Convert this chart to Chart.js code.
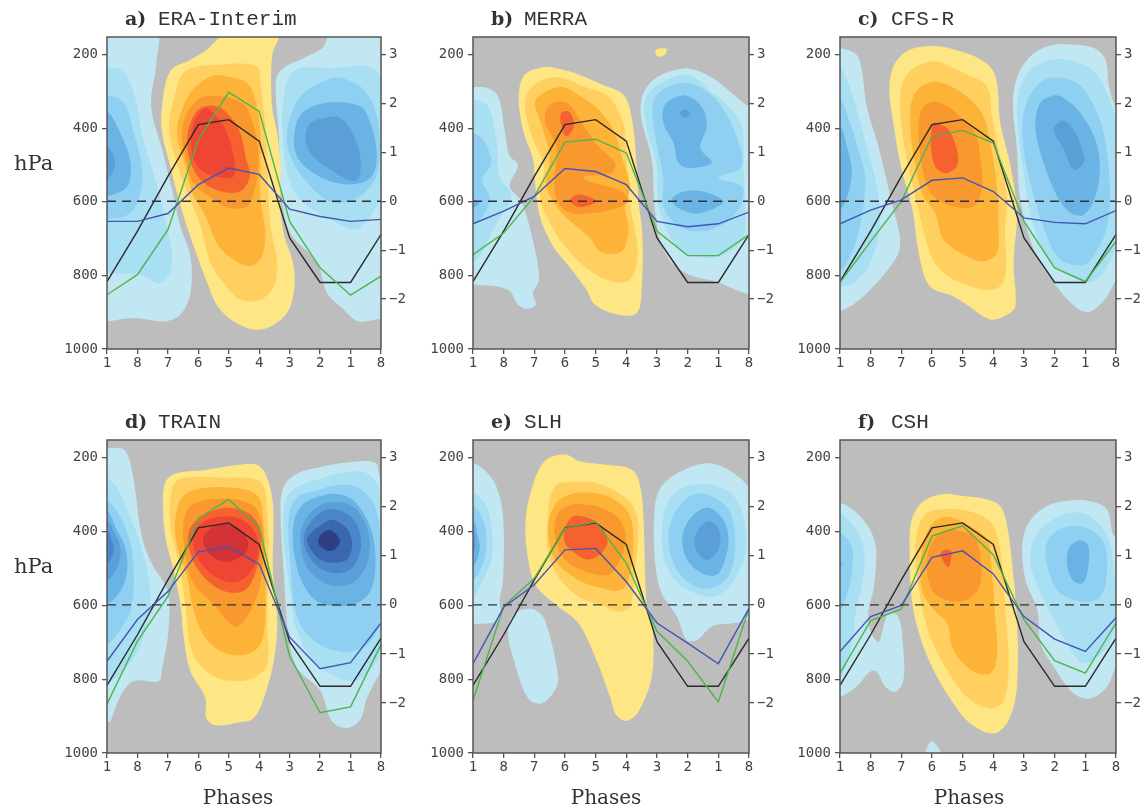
<!DOCTYPE html>
<html><head><meta charset="utf-8">
<style>html,body{margin:0;padding:0;background:#fff;overflow:hidden;width:1141px;height:812px}canvas{position:absolute}</style>
<script src="https://cdn.jsdelivr.net/npm/chart.js@4/dist/chart.umd.min.js"></script>
</head><body>
<script>
const phaseLabels=[1,8,7,6,5,4,3,2,1,8];
const pressureTicks=[200,400,600,800,1000];
const anomalyTicks=[-2,-1,0,1,2,3];
const warmColors=['#FEE685','#FFD05F','#FDB337','#F9982F','#F5622F','#EE4534','#D33237'];
const coldColors=['#C0E7F2','#A8DFF3','#8ECFF2','#6AB3E5','#5B9FD9','#4A86C8','#3A68B0','#2E3F84'];

const blackLine=[-1.64,-.61,.51,1.57,1.67,1.23,-.75,-1.66,-1.66,-.68];
const eraGreen=[-1.91,-1.5,-.58,1.26,2.23,1.84,-.41,-1.36,-1.92,-1.53];
const eraBlue=[-.41,-.41,-.25,.34,.68,.55,-.16,-.31,-.41,-.37];
const merraGreen=[-1.09,-.65,.1,1.21,1.27,.99,-.61,-1.11,-1.11,-.68];
const merraBlue=[-.46,-.2,.1,.67,.61,.34,-.41,-.52,-.46,-.22];
const cfsGreen=[-1.66,-.82,0,1.33,1.45,1.19,-.41,-1.36,-1.64,-.82];
const cfsBlue=[-.46,-.18,.03,.43,.48,.2,-.34,-.43,-.46,-.19];
const trainGreen=[-2.02,-.74,.17,1.76,2.15,1.58,-1.05,-2.2,-2.08,-.81];
const trainBlue=[-1.15,-.3,.27,1.08,1.18,.83,-.66,-1.3,-1.18,-.37];
const slhGreen=[-1.95,-.03,.54,1.56,1.69,.85,-.54,-1.15,-1.98,-.07];
const slhBlue=[-1.2,-.05,.41,1.12,1.15,.47,-.37,-.78,-1.2,-.07];
const cshGreen=[-1.39,-.32,-.09,1.4,1.61,1.02,-.3,-1.14,-1.39,-.37];
const cshBlue=[-.95,-.24,-.01,.97,1.1,.63,-.24,-.7,-.95,-.26];

// contour outlines: [level, [phase position, hPa, ...]]
const eraWarm=[
[0,[4.1,130,3.3,185,2.74,214,2.08,245,1.81,340,1.81,413,2.08,503,2.3,576,2.52,639,2.85,721,3.29,820,3.72,893,4.6,943,5.26,943,5.91,902,6.13,848,6.13,775,5.8,685,5.7,612,5.7,503,5.59,413,5.42,340,5.42,205,5.65,130]],
[1,[2.57,245,2.19,322,2.03,386,2.14,449,2.41,522,2.74,594,3.07,667,3.4,766,3.83,820,4.38,866,5.04,866,5.48,830,5.59,766,5.37,667,5.31,594,5.26,485,5.2,395,5.04,277,4.93,232,3.83,227]],
[2,[3.5,257,2.85,291,2.46,349,2.3,413,2.57,503,2.85,585,3.18,630,3.67,721,4.16,757,4.71,775,5.09,748,5.2,685,5.04,594,5.04,513,5.04,413,4.87,322,4.6,277,4.05,261]],
[3,[3.07,318,2.63,359,2.46,413,2.57,476,2.85,549,3.5,594,4.05,617,4.6,612,4.87,558,4.98,476,4.82,395,4.55,340,4.05,318,3.5,313]],
[4,[3.07,345,2.74,386,2.63,440,2.79,503,3.18,549,3.72,571,4.38,571,4.69,531,4.55,476,4.38,413,4.05,368,3.6,340]],
[5,[3.23,345,2.85,386,2.79,467,3.07,512,3.6,531,4.16,531,4.16,476,3.94,413,3.6,368]]];
const eraCold=[
[0,[7.5,125,7.1,180,6.46,209,5.8,236,5.55,268,5.64,413,5.75,594,6.02,685,6.9,766,7.23,848,7.78,893,8.27,925,8.98,918,9.4,918,9.4,125]],
[1,[6.13,245,5.8,322,5.78,440,6.02,549,6.46,603,7.34,648,8.16,676,8.65,639,8.93,594,9,413,8.87,245,7.34,236]],
[2,[7.45,263,6.46,304,6.02,368,5.91,440,6.19,503,6.79,567,7.45,603,8.1,594,8.65,558,8.93,503,8.87,368,8.43,295,7.89,268]],
[3,[7.23,331,6.41,359,6.16,413,6.24,476,6.79,522,7.56,549,8.32,549,8.76,522,8.85,458,8.65,386,8.32,340]],
[4,[7.34,369,6.68,386,6.52,422,6.68,467,7.34,513,8.1,544,8.32,522,8.27,458,8,404,7.67,372]],
[0,[-.4,125,1.59,125,1.62,223,1.45,340,1.81,458,2.19,585,2.41,667,2.74,748,2.74,848,2.41,907,1.86,925,.88,916,0,925,-.4,925]],
[1,[-.4,236,0,236,.5,241,.88,304,1.2,431,1.53,522,1.81,612,2.14,766,1.75,822,1.1,798,0,795,-.4,795]],
[2,[-.4,309,0,309,.55,331,.88,413,1.1,485,1.15,558,.77,630,0,648,-.4,648]],
[3,[-.4,354,0,354,.44,413,.77,494,.66,558,0,585,-.4,585]],
[4,[-.4,449,0,449,.27,494,0,540,-.4,540]]];
const merraWarm=[
[0,[5.97,186,6.32,185,6.21,203,5.99,203]],
[0,[2.29,234,1.69,254,1.49,313,1.63,404,1.96,485,2.02,549,2.18,639,2.61,721,3.21,784,3.7,839,3.98,880,4.74,907,5.34,902,5.5,839,5.52,685,5.39,594,5.34,503,5.17,368,4.9,309,4.2,281,3.32,250,2.67,236]],
[1,[2.34,266,1.85,295,1.69,340,1.96,431,2.32,503,2.18,585,2.45,648,3,721,3.76,784,4.52,816,5.12,812,5.37,739,5.17,630,5.06,558,5,458,4.9,386,4.41,313,3.65,288,2.89,263]],
[2,[2.89,288,2.29,304,2.02,331,2.25,395,2.5,476,2.4,558,2.89,630,3.76,694,4.2,737,4.85,735,5.07,676,4.96,612,5.12,558,4.85,476,4.58,404,4.09,349,3.43,309]],
[3,[2.89,327,2.45,340,2.36,386,2.72,449,2.67,531,2.72,594,3.16,630,3.98,630,4.85,612,5.07,594,4.74,567,3.76,544,3.6,531,4.52,522,4.63,494,4.09,449,3.54,386,3.21,340]],
[4,[2.87,359,2.89,395,3.05,422,3.27,400,3.27,377,3.11,354]],
[4,[3.16,594,3.43,580,3.98,594,3.98,603,3.49,614,3.21,603]]];
const merraCold=[
[0,[6.81,238,6.05,259,5.56,304,5.48,368,5.83,485,5.94,630,6.26,739,6.92,793,8.01,820,9,852,9.4,852,9.4,340,9,340,8.44,304,7.9,268,7.24,241]],
[1,[6.81,254,6.05,281,5.61,322,5.66,395,5.99,503,6.05,612,6.48,703,7.03,744,8.01,748,8.77,703,8.88,648,8.82,503,8.77,395,8.33,340,7.68,295,7.24,263]],
[2,[6.81,277,6.05,304,5.85,349,5.99,440,6.21,540,6.21,612,6.7,667,7.46,680,8.22,657,8.71,612,8.77,558,8.01,535,8.77,503,8.55,413,8.01,331,7.46,291]],
[3,[6.81,311,6.26,336,6.21,386,6.54,440,6.7,494,7.03,508,7.79,494,7.41,454,7.62,395,7.51,349,7.14,318]],
[3,[6.48,594,6.81,574,7.46,571,8.17,598,7.79,621,7.24,632,6.7,617]],
[4,[6.75,359,6.92,350,7.08,359,6.92,372]],
[0,[-.4,288,0,288,.49,291,.82,313,1.03,404,1.2,476,1.47,499,1.2,558,1.58,598,2.02,730,2.15,812,1.96,848,2.05,880,1.74,891,1.47,880,1.14,839,0,825,-.4,825]],
[1,[-.4,322,0,322,.49,340,.76,431,.87,531,1.25,585,.71,667,.22,748,0,766,-.4,766]],
[2,[-.4,413,0,413,.33,431,.6,494,.3,540,.55,590,.3,640,0,660,-.4,660]],
[3,[-.3,590,.2,603,-.3,625]]];
const cfsWarm=[
[0,[3.16,177,2.29,186,1.8,223,1.61,286,1.74,386,2.01,513,2.34,612,2.61,757,2.94,830,3.7,857,4.14,880,4.9,920,5.45,907,5.72,884,5.66,766,5.77,630,5.56,503,5.23,386,5.07,259,4.68,218,3.92,191]],
[1,[3.05,218,2.34,241,2.01,286,1.96,359,2.18,485,2.51,603,2.83,712,3.16,775,3.92,820,5.01,839,5.38,802,5.38,676,5.45,594,5.23,485,4.96,368,4.79,286,4.14,254,3.59,232]],
[2,[2.94,275,2.45,304,2.29,359,2.4,476,2.72,585,3.1,630,3.38,703,4.14,748,4.68,762,5.12,739,5.17,667,5.12,558,4.9,440,4.68,368,4.25,322,3.49,281]],
[3,[3.05,327,2.67,349,2.56,413,2.72,522,3.05,585,3.7,612,4.36,612,4.63,558,4.58,485,4.41,413,3.92,368,3.49,340]],
[4,[3.05,386,2.96,445,3.1,503,3.43,522,3.81,503,3.81,458,3.54,404,3.27,390]]];
const cfsCold=[
[0,[8.28,182,8.66,214,8.77,286,9,349,9.4,413,9.4,766,9,812,8.71,857,8.17,898,7.73,889,6.97,820,6.32,730,5.88,594,5.77,458,5.64,322,5.83,250,6.32,196,6.97,173,7.63,173]],
[1,[6.86,214,6.21,241,5.88,286,5.77,359,5.99,522,6.32,667,6.86,766,7.51,802,8.06,820,8.6,793,9,703,9,386,8.71,304,8.28,245,7.63,218]],
[2,[6.86,263,6.32,295,5.99,359,5.99,458,6.32,585,6.75,694,7.19,757,7.96,771,8.39,730,8.71,667,8.8,558,8.6,413,8.28,340,7.73,277]],
[3,[6.97,311,6.54,331,6.37,395,6.64,494,7.08,585,7.51,630,7.95,635,8.33,585,8.47,503,8.33,431,7.84,359,7.3,318]],
[4,[7.19,381,6.97,404,7.3,458,7.62,512,7.95,494,7.9,458,7.62,404,7.4,384]],
[0,[-.4,182,0,182,.54,200,.71,241,.87,340,1.25,449,1.69,603,1.96,703,1.8,757,.76,857,0,898,-.4,898]],
[1,[-.4,236,0,236,.27,277,.54,349,.87,449,1.2,558,1.3,667,.98,766,.44,820,0,830,-.4,830]],
[2,[-.4,322,0,322,.33,386,.6,458,.82,531,.76,612,.54,703,.22,766,0,785,-.4,785]],
[3,[-.4,395,0,395,.22,449,.38,513,.27,576,0,621,-.4,621]]];
const trainWarm=[
[0,[2.25,243,1.92,266,1.84,325,1.92,416,2.19,506,2.41,597,2.52,687,2.74,778,3.23,851,3.26,905,3.56,925,4.27,918,4.82,905,5.15,851,5.48,751,5.59,642,5.45,506,5.45,325,5.2,243,4.87,218,4.16,221,3.18,234]],
[1,[2.41,257,2.14,284,2.08,379,2.41,506,2.57,597,2.79,724,3.4,787,4.16,805,4.82,796,5.26,760,5.26,642,5.31,506,5.26,350,5.04,266,3.83,254]],
[2,[2.74,291,2.35,325,2.25,416,2.63,524,2.85,615,3.23,687,3.83,728,4.6,733,5.04,705,5.2,633,5.2,506,5.15,388,4.93,302,3.83,280]],
[3,[2.85,325,2.52,370,2.57,461,2.85,542,3.5,597,3.94,642,4.27,658,4.65,624,4.98,561,5.15,452,5.04,361,4.71,325,3.83,311]],
[4,[3.07,361,2.7,398,2.74,461,3.18,524,3.83,561,4.49,561,4.82,524,5.04,452,5,388,4.6,348,3.83,336]],
[5,[2.96,388,2.83,434,3.18,497,3.83,533,4.38,533,4.82,497,4.98,443,4.82,397,4.38,366,3.6,361]],
[6,[3.23,407,3.18,438,3.56,474,4.05,481,4.6,452,4.6,420,4.27,388,3.7,379]]];
const trainCold=[
[0,[7.01,225,6.24,243,5.8,280,5.7,343,5.8,506,5.97,687,6.24,769,7.01,832,7.39,914,7.89,932,8.32,909,8.54,851,9,778,9.4,720,9.4,300,8.96,250,8.82,214,7.98,212]],
[1,[7.01,257,6.24,280,5.86,316,5.8,416,6.02,561,6.24,669,6.9,760,8.1,805,8.87,751,9,687,9,325,8.87,271,8.43,239,7.56,243]],
[2,[6.9,289,6.24,307,5.97,361,6.02,479,6.19,615,6.57,678,7.34,719,8.1,724,8.76,687,8.98,615,8.98,416,8.76,325,8.21,280,7.45,275]],
[3,[7.12,302,6.46,325,6.13,379,6.19,479,6.57,561,7.12,597,8.1,597,8.65,561,8.82,479,8.65,388,8.1,316,7.56,298]],
[4,[7.12,325,6.57,361,6.35,416,6.57,497,7.23,542,8,542,8.49,497,8.63,425,8.38,361,7.89,325]],
[5,[7.23,341,6.68,375,6.46,425,6.73,479,7.34,511,8,502,8.32,452,8.27,393,7.89,352]],
[6,[7.28,370,6.73,402,6.57,425,6.9,470,7.39,484,7.89,475,8.05,434,7.89,393,7.56,372]],
[7,[7.28,396,7,411,6.95,434,7.23,452,7.5,448,7.65,425,7.5,405]],
[0,[-.4,174,0,174,.55,178,.82,233,1.15,416,1.48,488,1.99,561,2.02,669,1.81,769,1.7,805,.88,805,.44,846,.11,914,0,918,-.4,918]],
[1,[-.4,257,0,257,.33,280,.71,352,1.1,434,1.42,561,1.31,651,.88,742,0,814,-.4,814]],
[2,[-.4,316,0,316,.44,361,.77,434,.88,524,.77,615,.33,678,0,706,-.4,706]],
[3,[-.4,343,0,343,.33,397,.6,443,.66,506,.44,561,0,597,-.4,597]],
[4,[-.4,370,0,370,.27,407,.44,443,.38,488,0,533,-.4,533]],
[5,[-.4,397,0,397,.16,425,.22,452,0,488,-.4,488]]];
const slhWarm=[
[0,[3,191,2.34,209,1.91,286,1.71,377,1.8,476,2.07,549,2.78,603,3.43,648,3.98,739,4.47,848,4.68,898,5.01,913,5.39,889,5.83,793,5.86,667,5.66,594,5.56,368,5.45,277,5.17,232,4.19,218,3.43,209]],
[1,[3.21,266,2.67,277,2.45,349,2.45,458,2.78,522,3.43,576,4.3,603,4.74,617,5.12,603,5.28,503,5.39,413,5.28,340,4.74,295,3.98,268]],
[2,[3.21,298,2.72,322,2.45,386,2.67,476,3.43,531,4.19,553,4.85,558,5.12,513,5.23,413,5.07,349,4.52,309,3.87,295]],
[3,[3.21,327,2.78,349,2.67,413,3,476,3.65,508,4.41,517,4.79,476,4.98,413,4.74,363,4.19,336,3.65,327]],
[4,[3.27,359,3,390,3,431,3.32,458,3.76,476,4.19,458,4.39,426,4.19,386,3.76,363]]];
const slhCold=[
[0,[6.81,236,6.15,277,5.92,340,5.94,485,6.15,567,6.65,630,6.97,694,7.3,694,7.79,657,8.55,648,9,639,9.4,639,9.4,277,9,277,8.77,259,8.22,227,7.57,215]],
[1,[7.03,275,6.48,304,6.21,359,6.21,467,6.59,531,7.24,567,7.9,575,8.44,540,8.88,458,8.82,359,8.5,304,7.9,275]],
[2,[7.24,298,6.65,340,6.37,413,6.59,494,7.14,544,7.79,553,8.33,522,8.55,440,8.39,349,7.9,309]],
[3,[7.68,336,7.14,359,6.83,413,6.98,476,7.46,513,7.95,517,8.22,476,8.33,422,8.17,368]],
[4,[7.68,372,7.35,395,7.22,431,7.41,467,7.68,476,8.01,449,8.06,413,7.95,386]],
[0,[-.4,214,0,214,.38,234,.76,277,.98,359,.98,531,.87,585,.87,639,0,651,-.4,651]],
[1,[-.4,295,0,295,.38,322,.6,386,.6,476,.27,540,0,576,-.4,576]],
[2,[-.4,331,0,331,.33,368,.44,422,.33,485,0,531,-.4,531]],
[3,[-.4,368,0,368,.16,413,.22,449,0,494,-.4,494]],
[4,[-.4,402,0,402,.08,431,0,458,-.4,458]],
[0,[1.74,610,1.36,621,1.14,667,1.36,757,1.8,852,2.23,866,2.67,830,2.78,793,2.34,639,2.02,612]]];
const cshWarm=[
[0,[3.38,298,2.72,318,2.34,368,2.27,458,2.34,585,2.61,685,3.05,775,3.7,866,4.25,920,5.01,947,5.5,911,5.77,820,5.77,639,5.61,485,5.45,386,5.23,331,4.79,313,4.03,304]],
[1,[3.27,340,2.83,349,2.56,386,2.45,458,2.61,576,2.94,685,3.49,775,4.14,848,4.9,880,5.34,857,5.5,757,5.39,612,5.28,485,5.07,395,4.68,359,3.92,340]],
[2,[3.27,363,2.94,386,2.67,449,2.67,558,3.05,612,3.49,648,3.7,721,4.36,780,4.9,784,5.12,739,5.06,630,4.96,513,4.79,422,4.25,386,3.7,363]],
[3,[3.49,395,3.05,422,2.83,476,3,558,3.6,589,4.25,580,4.58,540,4.56,458,4.36,413,3.92,399]],
[4,[3.43,449,3.29,458,3.34,476,3.53,497,3.64,467,3.6,451]]];
const cshCold=[
[0,[7.52,316,6.75,331,6.15,377,5.94,440,6.05,531,6.43,612,6.54,703,6.97,766,7.62,839,8.17,852,8.71,820,9,766,9.4,721,9.4,404,8.95,413,8.71,340,8.17,318]],
[1,[7.52,349,6.86,372,6.32,422,6.21,485,6.54,567,6.86,621,7.41,703,7.96,757,8.71,712,9,639,8.91,485,8.71,413,8.17,359]],
[2,[7.52,386,6.97,404,6.7,449,6.86,522,7.19,567,7.95,590,8.5,576,8.71,503,8.6,431,8.17,395]],
[3,[7.78,424,7.46,445,7.41,494,7.62,535,7.9,540,8.06,513,8.12,449,8.01,429]],
[0,[-.4,322,0,322,.54,349,.98,395,1.18,449,1.09,558,.93,612,.98,667,1.25,699,1.42,657,1.58,621,1.9,630,2.05,703,2.07,802,1.8,834,1.47,820,1.2,780,.98,780,.54,820,0,848,-.4,848]],
[1,[-.4,349,0,349,.44,386,.76,440,.76,522,.49,630,.44,685,0,802,-.4,802]],
[2,[-.4,404,0,404,.38,440,.4,503,.27,558,0,612,-.4,612]],
[3,[-.3,467,.06,485,-.3,513]],
[0,[2.78,1010,3,968,3.32,1010]]];

const panels=[
 {tag:'a)',name:'ERA-Interim',warm:eraWarm,cold:eraCold,green:eraGreen,blue:eraBlue,left:107,top:37,w:274,h:312,hpa:true},
 {tag:'b)',name:'MERRA',warm:merraWarm,cold:merraCold,green:merraGreen,blue:merraBlue,left:473,top:37,w:276,h:312},
 {tag:'c)',name:'CFS-R',warm:cfsWarm,cold:cfsCold,green:cfsGreen,blue:cfsBlue,left:840,top:37,w:276,h:312},
 {tag:'d)',name:'TRAIN',warm:trainWarm,cold:trainCold,green:trainGreen,blue:trainBlue,left:107,top:440,w:274,h:313,hpa:true,phases:-6},
 {tag:'e)',name:'SLH',warm:slhWarm,cold:slhCold,green:slhGreen,blue:slhBlue,left:473,top:440,w:276,h:313,phases:-5},
 {tag:'f)',name:'CSH',warm:cshWarm,cold:cshCold,green:cshGreen,blue:cshBlue,left:840,top:440,w:276,h:313,phases:-9}
];
const M={l:100,r:40,t:37,b:58};
const ink='#444';
const tickFont={family:'"DejaVu Sans Mono"',size:14};

function loop(flat){const pts=[];for(let i=0;i<flat.length;i+=2)pts.push({x:flat[i],y:flat[i+1]});const n=pts.length;return [pts[n-1],...pts,pts[0],pts[1]];}
function shape(level,flat,colors){return {data:loop(flat),yAxisID:'y',showLine:true,fill:'shape',backgroundColor:colors[level],borderWidth:0,borderColor:'transparent',pointRadius:0,tension:.35,capBezierPoints:false};}
function series(vals,color,w){return {data:vals.map((v,i)=>({x:i,y:v})),yAxisID:'y2',showLine:true,fill:false,borderColor:color,borderWidth:w,pointRadius:0,tension:0};}

const frame={id:'frame',
 beforeDraw(c){const a=c.chartArea,x=c.ctx;x.save();x.fillStyle='#BDBDBD';x.fillRect(a.left,a.top,a.width,a.height);x.restore();},
 afterDraw(c){const a=c.chartArea,x=c.ctx,p=c.options.plugins.frame.panel;x.save();
  x.strokeStyle='#555';x.lineWidth=1.5;x.strokeRect(a.left,a.top,a.width,a.height);
  x.fillStyle='#333';x.textBaseline='alphabetic';x.textAlign='left';
  x.font='bold 19px "DejaVu Serif"';x.fillText(p.tag,a.left+18,a.top-12);
  x.font='21px "Liberation Mono"';x.fillText(p.name,a.left+51,a.top-12);
  x.font='21px "DejaVu Serif"';
  if(p.hpa)x.fillText('hPa',a.left-93,a.top+133);
  if(p.phases!==undefined){x.font='20px "DejaVu Serif"';x.textAlign='center';x.fillText('Phases',(a.left+a.right)/2+p.phases,a.bottom+51);}
  x.restore();}};

panels.forEach(p=>{
 const cv=document.createElement('canvas');
 const W=p.w+M.l+M.r,H=p.h+M.t+M.b;
 cv.width=W;cv.height=H;cv.style.left=(p.left-M.l)+'px';cv.style.top=(p.top-M.t)+'px';cv.style.width=W+'px';cv.style.height=H+'px';
 document.body.appendChild(cv);
 const fills=[...p.cold.map(s=>shape(s[0],s[1],coldColors)),...p.warm.map(s=>shape(s[0],s[1],warmColors))].reverse();
 const datasets=[
  {data:[{x:0,y:0},{x:9,y:0}],yAxisID:'y2',showLine:true,fill:false,borderColor:'#333',borderWidth:1.4,borderDash:[9,6],pointRadius:0},
  series(p.blue,'#4455B2',1.4),series(p.green,'#4DB54A',1.4),series(blackLine,'#2A2A2A',1.4),
  ...fills];
 const tickGrid={drawOnChartArea:false,drawTicks:true,tickLength:5,color:'#555',lineWidth:1.3};
 new Chart(cv,{type:'scatter',data:{datasets},plugins:[frame],options:{
  responsive:false,animation:false,devicePixelRatio:1,
  layout:{padding:{top:M.t,left:0,right:0,bottom:0}},
  plugins:{legend:{display:false},tooltip:{enabled:false},title:{display:false},frame:{panel:p}},
  scales:{
   x:{type:'linear',min:0,max:9,border:{display:false},grid:tickGrid,
      afterBuildTicks:s=>{s.ticks=phaseLabels.map((_,i)=>({value:i}));},
      afterFit:s=>{s.height=M.b;},
      ticks:{autoSkip:false,maxRotation:0,padding:1,color:ink,font:tickFont,callback:v=>phaseLabels[v]}},
   y:{type:'linear',position:'left',reverse:true,min:152,max:1000,border:{display:false},grid:tickGrid,
      afterBuildTicks:s=>{s.ticks=pressureTicks.map(v=>({value:v}));},
      afterFit:s=>{s.width=M.l;},
      ticks:{autoSkip:false,padding:4,color:ink,font:tickFont,callback:v=>String(v)}},
   y2:{type:'linear',position:'right',min:-3.02,max:3.36,border:{display:false},grid:tickGrid,
      afterBuildTicks:s=>{s.ticks=anomalyTicks.map(v=>({value:v}));},
      afterFit:s=>{s.width=M.r;},
      ticks:{autoSkip:false,padding:3,color:ink,font:tickFont,callback:v=>v<0?'\u2212'+(-v):String(v)}}
  }}});
});
</script>
</body></html>
